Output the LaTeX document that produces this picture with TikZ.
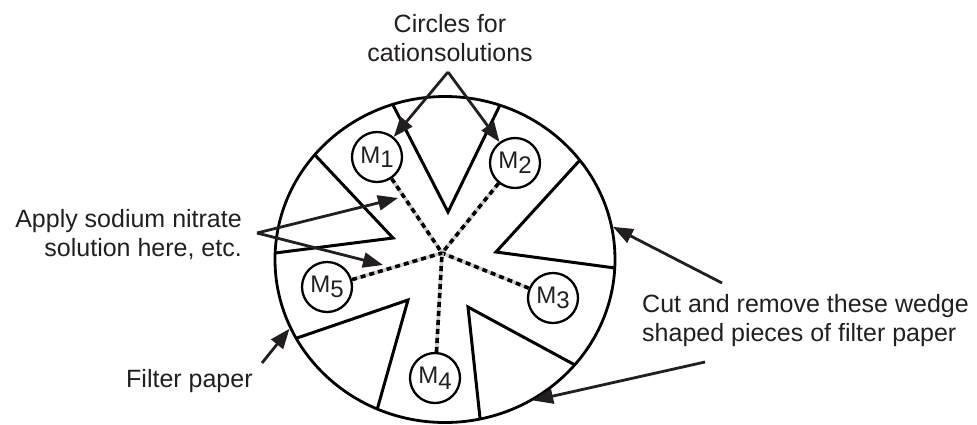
\documentclass[tikz,border=0pt]{standalone}
\usepackage{fontspec}
\setmainfont{Liberation Sans}
\usetikzlibrary{arrows.meta,calc,shapes.geometric}
\definecolor{ink}{RGB}{35,31,32}
\begin{document}
\begin{tikzpicture}[x=1pt,y=-1pt,
  lbl/.style={font=\fontsize{25}{29}\selectfont, text=ink, inner sep=0pt},
  mcirc/.style={circle, draw=black, line width=2.3pt, minimum size=50pt, inner sep=0pt, font=\fontsize{24}{28}\selectfont, text=ink},
  pointer/.style={draw=ink, line width=2.8pt, -{Triangle[length=20pt,width=15pt]}},
  cutline/.style={draw=black, line width=3pt, line join=miter},
  trailbase/.style={draw=gray!40, line width=3.6pt},
  trail/.style={draw=black, line width=3.6pt, dash pattern=on 5pt off 4pt}
]
\useasboundingbox (0,0) rectangle (977,424);

% filter paper
\node[ellipse, draw=black, line width=2.8pt, minimum width=340pt, minimum height=326pt, inner sep=0pt] (paper) at (445,259.5) {};

% wedge cut lines
\begin{scope}
\clip (445,259.5) ellipse [x radius=170, y radius=163];
\coordinate (w1) at (448,212);
\coordinate (w2) at (393,238);
\coordinate (w3) at (496,252);
\coordinate (w4) at (468,307);
\coordinate (w5) at (408,300);
\draw[cutline] ($(w1)!1.3!(393,105)$) -- (w1) -- ($(w1)!1.3!(500,105)$);
\draw[cutline] ($(w2)!1.3!(315,155)$) -- (w2) -- ($(w2)!1.3!(275,253)$);
\draw[cutline] ($(w3)!1.3!(580,160)$) -- (w3) -- ($(w3)!1.3!(615,268)$);
\draw[cutline] ($(w4)!1.3!(575,365)$) -- (w4) -- ($(w4)!1.3!(480,418)$);
\draw[cutline] ($(w5)!1.3!(297,338)$) -- (w5) -- ($(w5)!1.3!(377,410)$);
\end{scope}

% cation circles
\node[mcirc] (M1) at (377,157) {M\raisebox{-4pt}{1}};
\node[mcirc] (M2) at (515,163) {M\raisebox{-5pt}{2}};
\node[mcirc] (M3) at (553,298) {M\raisebox{-5pt}{3}};
\node[mcirc] (M4) at (435,378) {M\raisebox{-6pt}{4}};
\node[mcirc] (M5) at (327,287) {M\raisebox{-5pt}{5}};

% dashed solution trails
\coordinate (hub) at (442,253);
\foreach \m in {M1,M2,M3,M4,M5}{
  \draw[trailbase] (\m) -- (hub);
  \draw[trail] (\m) -- (hub);
}

% labels
\node[lbl, align=center, anchor=north] (circtxt) at (450,13.7) {Circles for\\cationsolutions};
\node[lbl, align=right, anchor=north east] (apply) at (242,209) {Apply sodium nitrate\\solution here, etc.};
\node[lbl, anchor=base west] (filter) at (126,387) {Filter paper};
\node[lbl, align=left, anchor=north west] (cuttxt) at (642,294) {Cut and remove these wedge\\shaped pieces of filter paper};

% pointers
\coordinate (cs) at (448,72);
\draw[pointer] (cs) -- (M1);
\draw[pointer] (cs) -- (M2);

\coordinate (as) at (257,233);
\coordinate (ap1) at (398,198);
\coordinate (ap2) at (383,265);
\draw[pointer] (as) -- (ap1);
\draw[pointer] (as) -- (ap2);

\coordinate (fs) at (262,363);
\draw[pointer] (fs) -- (paper.204);

\coordinate (c1) at (722,283);
\coordinate (c2) at (705,362);
\draw[pointer] (c1) -- (paper.11.8);
\draw[pointer] (c2) -- (paper.-58.3);
\end{tikzpicture}
\end{document}
